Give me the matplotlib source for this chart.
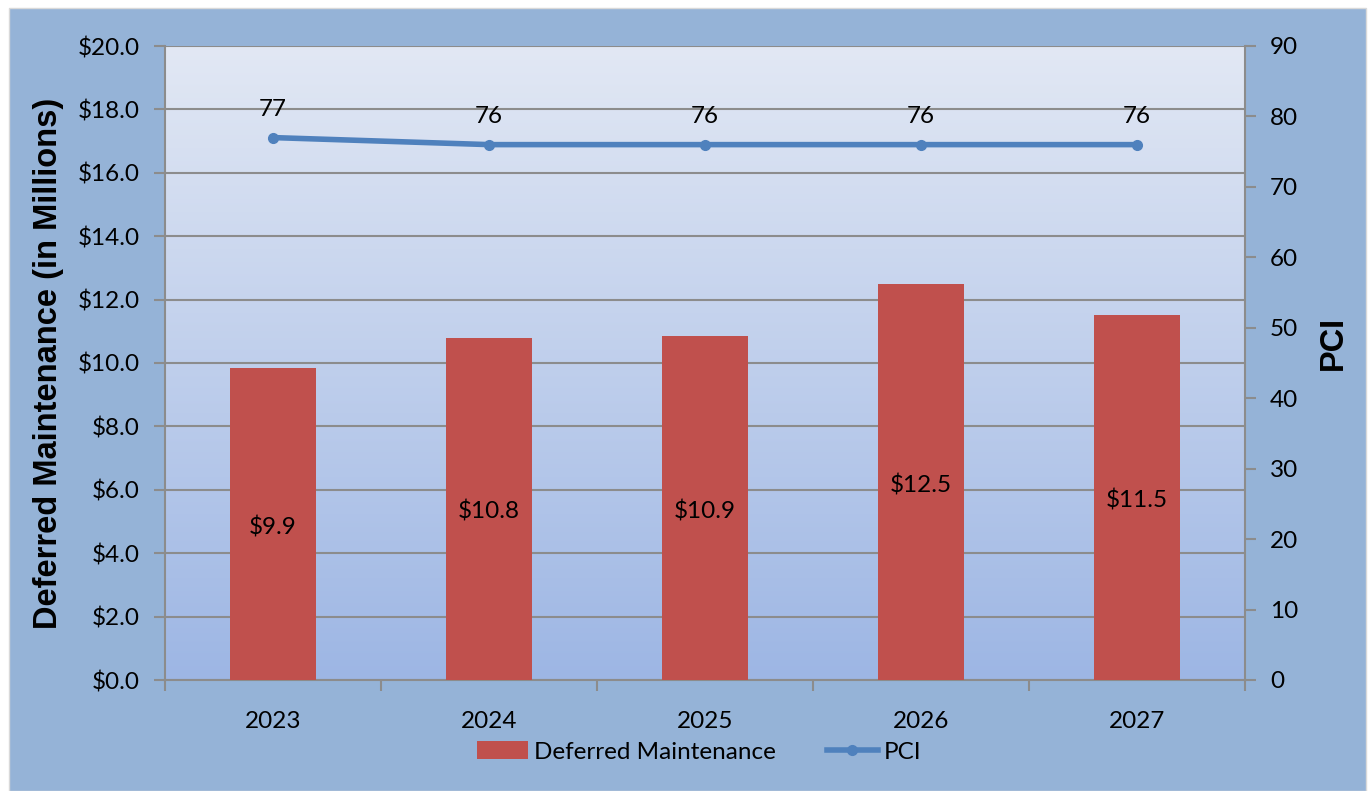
import matplotlib
matplotlib.use("Agg")
import matplotlib.pyplot as plt
import numpy as np
from matplotlib.patches import Rectangle
from matplotlib.colors import LinearSegmentedColormap

# data
years = ["2023", "2024", "2025", "2026", "2027"]
deferred = [9.85, 10.8, 10.85, 12.5, 11.5]
deferred_labels = ["$9.9", "$10.8", "$10.9", "$12.5", "$11.5"]
pci = [77, 76, 76, 76, 76]

barColor = "#C0504D"
lineColor = "#4F81BD"
gridColor = "#8C8C8C"
outerColor = "#95B3D7"
tickFont = "Lato"
fs = 17.5

fig = plt.figure(figsize=(13.71, 7.91), dpi=100)
fig.patch.set_facecolor("white")
# outer chart background box
fig.patches.append(Rectangle((9/1371, 0), 1357/1371, 783/791, transform=fig.transFigure,
                             facecolor=outerColor, edgecolor="#D9D9D9", linewidth=1, zorder=-5))

ax = fig.add_axes([165/1371, 111/791, 1080/1371, 634/791])
ax.set_facecolor("none")

# gradient plot area
grad = LinearSegmentedColormap.from_list("g", ["#9DB6E4", "#E2E8F4"])
ax.imshow(np.linspace(0, 1, 256).reshape(-1, 1), cmap=grad, origin="lower", aspect="auto",
          extent=(-0.5, 4.5, 0, 20), zorder=0)

x = np.arange(len(years))
ax.bar(x, deferred, width=0.4, color=barColor, zorder=3, label="Deferred Maintenance")
for xi, v, lab in zip(x, deferred, deferred_labels):
    ax.text(xi, v / 2 - 0.1, lab, ha="center", va="center", fontsize=fs, family=tickFont, zorder=4)

ax.set_xlim(-0.5, 4.5)
ax.set_ylim(0, 20)
ax.set_yticks(np.arange(0, 21, 2))
ax.set_yticklabels(["${:.1f}".format(v) for v in np.arange(0, 21, 2)], fontsize=fs, family=tickFont)
ax.yaxis.grid(True, color=gridColor, linewidth=1.5, zorder=1)
ax.set_axisbelow(True)

ax.set_xticks(np.arange(-0.5, 5, 1))
ax.set_xticklabels([])
ax.set_xticks(x, minor=True)
ax.set_xticklabels(years, minor=True, fontsize=fs, family=tickFont)
ax.tick_params(axis="x", which="minor", length=0, pad=22)
ax.tick_params(axis="x", which="major", length=8, width=1.5, color=gridColor)
ax.tick_params(axis="y", length=8, width=1.5, color=gridColor, pad=10)

for s in ["top", "right"]:
    ax.spines[s].set_visible(False)
for s in ["left", "bottom"]:
    ax.spines[s].set_color(gridColor)
    ax.spines[s].set_linewidth(1.5)

ax.set_ylabel("Deferred Maintenance (in Millions)", fontsize=23.5, fontweight="bold",
              family="Liberation Sans", labelpad=10)

ax2 = ax.twinx()
ax2.plot(x, pci, color=lineColor, linewidth=4, marker="o", markersize=7, zorder=5, label="PCI")
for xi, v in zip(x, pci):
    ax2.text(xi, v + 4.0, str(v), ha="center", va="center", fontsize=fs, family=tickFont)
ax2.set_ylim(0, 90)
ax2.set_yticks(np.arange(0, 91, 10))
ax2.set_yticklabels([str(v) for v in range(0, 91, 10)], fontsize=fs, family=tickFont)
ax2.tick_params(axis="y", length=8, width=1.5, color=gridColor, pad=10)
for s in ["top", "left", "bottom"]:
    ax2.spines[s].set_visible(False)
ax2.spines["right"].set_color(gridColor)
ax2.spines["right"].set_linewidth(1.5)
ax2.set_ylabel("PCI", fontsize=23.5, fontweight="bold", family="Liberation Sans")
ax2.yaxis.set_label_coords(1.0676, 0.5315)

h1, l1 = ax.get_legend_handles_labels()
h2, l2 = ax2.get_legend_handles_labels()
fig.legend(h1 + h2, l1 + l2, loc="center", bbox_to_anchor=(699/1371, 1 - 752/791), ncol=2,
           frameon=False, prop={"family": tickFont, "size": fs}, handlelength=2.1,
           handletextpad=0.25, columnspacing=2.1)

fig.savefig("out.png", dpi=100, facecolor=fig.get_facecolor())
